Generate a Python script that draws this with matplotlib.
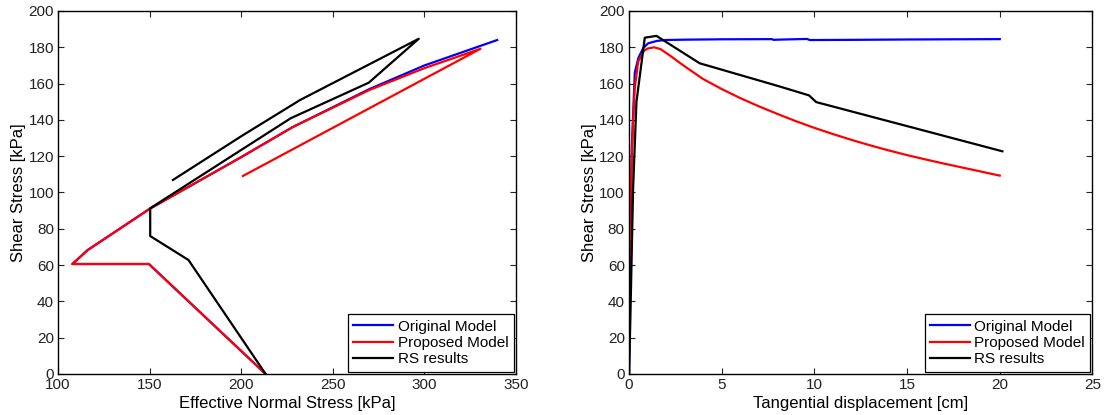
import numpy as np
import matplotlib.pyplot as plt

plt.rcParams["font.family"] = ["Liberation Sans", "DejaVu Sans"]

# Left panel: stress path (effective normal stress vs shear stress), kPa
orig_sn = [213.3, 149.6, 107.8, 116.2, 150.0, 200.0, 228.0, 270.0, 300.0, 339.7]
orig_tau = [0.0, 60.6, 60.6, 68.3, 91.0, 119.5, 136.0, 157.0, 170.0, 184.0]
prop_sn = [213.3, 149.6, 107.8, 116.2, 150.0, 200.0, 228.0, 270.0, 300.0, 330.6, 200.9]
prop_tau = [0.0, 60.6, 60.6, 68.3, 91.0, 119.5, 136.0, 156.5, 168.5, 179.2, 109.1]
rs_sn = [213.3, 171.2, 150.3, 150.3, 201.3, 227.0, 269.6, 296.9, 232.2, 200.0, 162.7]
rs_tau = [0.0, 62.8, 76.0, 91.3, 124.3, 140.9, 160.5, 184.7, 151.0, 131.0, 106.9]

# Right panel: shear stress vs tangential displacement
orig_d = [0.0, 0.05, 0.15, 0.31, 0.5, 0.76, 1.03, 1.5, 1.93, 3.0, 5.0, 7.7, 7.8, 8.0, 9.6, 9.75, 12.0, 15.0, 20.0]
orig_t = [0.0, 60.0, 125.0, 166.0, 174.0, 179.5, 182.2, 183.5, 184.0, 184.2, 184.4, 184.5, 184.1, 184.2, 184.6, 184.0, 184.1, 184.3, 184.5]
prop_d = [0.0, 0.02, 0.1, 0.22, 0.31, 0.49, 0.8, 1.0, 1.35, 1.7, 2.2, 3.0, 4.0, 5.0, 6.0, 7.0, 8.0, 9.0,
          10.0, 11.0, 12.0, 13.0, 14.0, 15.0, 16.0, 17.0, 18.0, 19.0, 20.0]
prop_t = [0.0, 60.0, 105.0, 139.0, 157.5, 172.0, 178.0, 179.3, 180.0, 179.0, 175.5, 169.5, 162.5, 157.0,
          152.0, 147.5, 143.3, 139.3, 135.6, 132.2, 129.0, 126.0, 123.2, 120.6, 118.2, 115.9, 113.7,
          111.5, 109.3]
rs_d = [0.0, 0.07, 0.22, 0.4, 0.85, 1.48, 3.81, 8.13, 9.71, 10.1, 20.14]
rs_t = [0.0, 30.0, 102.6, 150.0, 185.3, 186.3, 171.2, 158.4, 153.5, 149.8, 122.7]

labels = ["Original Model", "Proposed Model", "RS results"]
colors = ["#0000ff", "#ff0000", "#000000"]

fig = plt.figure(figsize=(11.1, 4.15), dpi=100)
ax0 = fig.add_axes([0.0523, 0.0988, 0.4126, 0.8747])
ax1 = fig.add_axes([0.5667, 0.0988, 0.4175, 0.8747])

ax0.plot(orig_sn, orig_tau, color=colors[0], lw=1.6, label=labels[0])
ax0.plot(prop_sn, prop_tau, color=colors[1], lw=1.6, label=labels[1])
ax0.plot(rs_sn, rs_tau, color=colors[2], lw=1.6, label=labels[2])
ax0.set_xlim(100, 350)
ax0.set_ylim(0, 200)
ax0.set_xlabel("Effective Normal Stress [kPa]", fontsize=12, labelpad=3)
ax0.set_ylabel("Shear Stress [kPa]", fontsize=12, labelpad=2)

ax1.plot(orig_d, orig_t, color=colors[0], lw=1.6, label=labels[0])
ax1.plot(prop_d, prop_t, color=colors[1], lw=1.6, label=labels[1])
ax1.plot(rs_d, rs_t, color=colors[2], lw=1.6, label=labels[2])
ax1.set_xlim(0, 25)
ax1.set_ylim(0, 200)
ax1.set_xlabel("Tangential displacement [cm]", fontsize=12, labelpad=3)
ax1.set_ylabel("Shear Stress [kPa]", fontsize=12, labelpad=2)

for ax in (ax0, ax1):
    ax.set_yticks(np.arange(0, 201, 20))
    ax.tick_params(direction="in", top=True, right=True, labelsize=11,
                   length=4, width=0.8, pad=3, colors="#222222")
    for sp in ax.spines.values():
        sp.set_linewidth(1.0)
    leg = ax.legend(loc="lower right", fontsize=11, fancybox=False,
                    handlelength=2.6, borderpad=0.35, labelspacing=0.15,
                    handletextpad=0.3, borderaxespad=0.15, framealpha=1)
    leg.get_frame().set_edgecolor("black")
    leg.get_frame().set_linewidth(0.9)

fig.savefig("out.png", dpi=100)
